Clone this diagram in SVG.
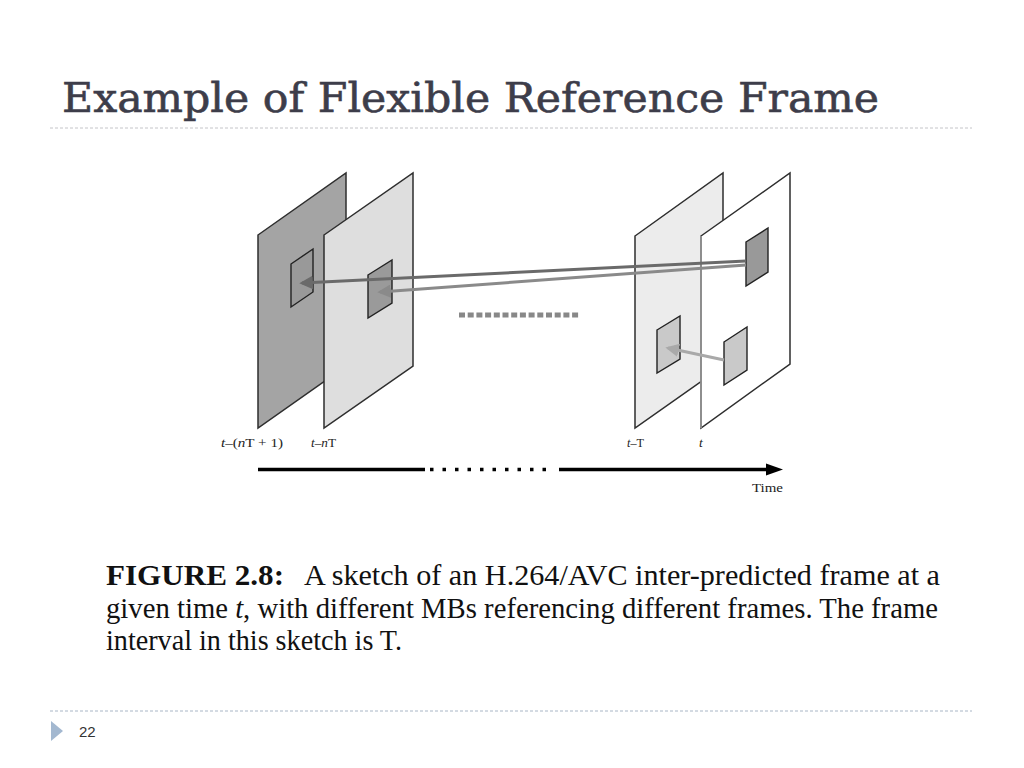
<svg xmlns="http://www.w3.org/2000/svg" width="1024" height="768" viewBox="0 0 1024 768">
<defs>
<style>
.frame{stroke:#2e2e2e;stroke-width:1.5;stroke-linejoin:miter}
.mb{stroke:#222;stroke-width:1.4}
.lbl{font-family:"Liberation Serif",serif;font-size:13.5px;fill:#222}
.cap{font-family:"Liberation Serif",serif;font-size:29px;fill:#111}
</style>
<marker id="ah1" viewBox="0 0 10 10" refX="8" refY="5" markerWidth="4.5" markerHeight="4.5" orient="auto" markerUnits="strokeWidth"><path d="M0,0 L10,5 L0,10 z" fill="#6a6a6a"/></marker>
<marker id="ah2" viewBox="0 0 10 10" refX="8" refY="5" markerWidth="4.5" markerHeight="4.5" orient="auto" markerUnits="strokeWidth"><path d="M0,0 L10,5 L0,10 z" fill="#8a8a8a"/></marker>
<marker id="ah3" viewBox="0 0 10 10" refX="8" refY="5" markerWidth="4.5" markerHeight="4.5" orient="auto" markerUnits="strokeWidth"><path d="M0,0 L10,5 L0,10 z" fill="#a9a9a9"/></marker>
</defs>
<rect width="1024" height="768" fill="#fff"/>
<text x="62" y="112" font-family="DejaVu Serif, serif" font-size="41" fill="#3d3d4a" stroke="#3d3d4a" stroke-width="0.6" textLength="817" lengthAdjust="spacingAndGlyphs">Example of Flexible Reference Frame</text>
<line x1="50" y1="128" x2="972" y2="128" stroke="#c4c4c8" stroke-width="1" stroke-dasharray="3 2"/>

<g id="frame1">
<polygon class="frame" points="258,235 346,173 346,366 258,428" fill="#a4a4a4"/>
<polygon class="mb" points="291,264 313,249 313,292 291,307" fill="#999"/>
</g>
<g id="frame2">
<polygon class="frame" points="324,235 413,173 413,366 324,428" fill="#dedede"/>
<polygon class="mb" points="368,275 392,260 392,303 368,318" fill="#9a9a9a"/>
</g>
<g id="frame3">
<polygon class="frame" points="635,236 723,173 723,366 635,428" fill="#ececec"/>
<polygon class="mb" points="657,330 680,316 680,359 657,373" fill="#c9c9c9"/>
</g>
<g id="frame4">
<polygon class="frame" points="701,236 790,173 790,364 701,428" fill="#fff"/>
<line x1="701" y1="236" x2="701" y2="428" stroke="#9a9a9a" stroke-width="1.6"/>
<polygon class="mb" points="746,242 768,228 768,272 746,286" fill="#999"/>
<polygon class="mb" points="724,342 747,327 747,370 724,385" fill="#c9c9c9"/>
</g>
<g id="dots">
<line x1="459" y1="315" x2="580" y2="315" stroke="#888" stroke-width="5" stroke-dasharray="6 2.7"/>
</g>
<g id="connectors" fill="none">
<line x1="746" y1="261" x2="302" y2="283" stroke="#6a6a6a" stroke-width="3" marker-end="url(#ah1)"/>
<line x1="746" y1="265" x2="380" y2="292" stroke="#8a8a8a" stroke-width="3" marker-end="url(#ah2)"/>
<line x1="724" y1="360" x2="668" y2="348" stroke="#a9a9a9" stroke-width="3" marker-end="url(#ah3)"/>
</g>
<g id="labels">
<text class="lbl" x="221" y="447" textLength="62" lengthAdjust="spacingAndGlyphs"><tspan font-style="italic">t</tspan>–(<tspan font-style="italic">n</tspan>T + 1)</text>
<text class="lbl" x="311" y="447" textLength="25" lengthAdjust="spacingAndGlyphs"><tspan font-style="italic">t</tspan>–<tspan font-style="italic">n</tspan>T</text>
<text class="lbl" x="627" y="447" textLength="17" lengthAdjust="spacingAndGlyphs"><tspan font-style="italic">t</tspan>–T</text>
<text class="lbl" x="699" y="447" font-style="italic">t</text>
</g>
<g id="timeline">
<line x1="258" y1="469.5" x2="425" y2="469.5" stroke="#000" stroke-width="3.5"/>
<line x1="430" y1="469.5" x2="552" y2="469.5" stroke="#000" stroke-width="3.5" stroke-dasharray="3.5 9"/>
<line x1="559" y1="469.5" x2="770" y2="469.5" stroke="#000" stroke-width="3.5"/>
<polygon points="766,463.5 783,469.5 766,475.5" fill="#000"/>
<text class="lbl" x="752" y="492" textLength="31" lengthAdjust="spacingAndGlyphs">Time</text>
</g>
<g id="caption">
<text class="cap" x="106" y="585" font-weight="bold" textLength="178" lengthAdjust="spacingAndGlyphs">FIGURE 2.8:</text>
<text class="cap" x="304" y="585" textLength="636" lengthAdjust="spacingAndGlyphs">A sketch of an H.264/AVC inter-predicted frame at a</text>
<text class="cap" x="106" y="618" textLength="832" lengthAdjust="spacingAndGlyphs">given time <tspan font-style="italic">t</tspan>, with different MBs referencing different frames. The frame</text>
<text class="cap" x="106" y="650" textLength="296" lengthAdjust="spacingAndGlyphs">interval in this sketch is T.</text>
</g>
<g id="footer">
<line x1="50" y1="711" x2="972" y2="711" stroke="#a9b6c6" stroke-width="1" stroke-dasharray="3 2"/>
<polygon points="51,721 63,731 51,741" fill="#a3b8d0"/>
<text x="79" y="737" font-family="Liberation Sans, sans-serif" font-size="15" fill="#333">22</text>
</g>
</svg>
